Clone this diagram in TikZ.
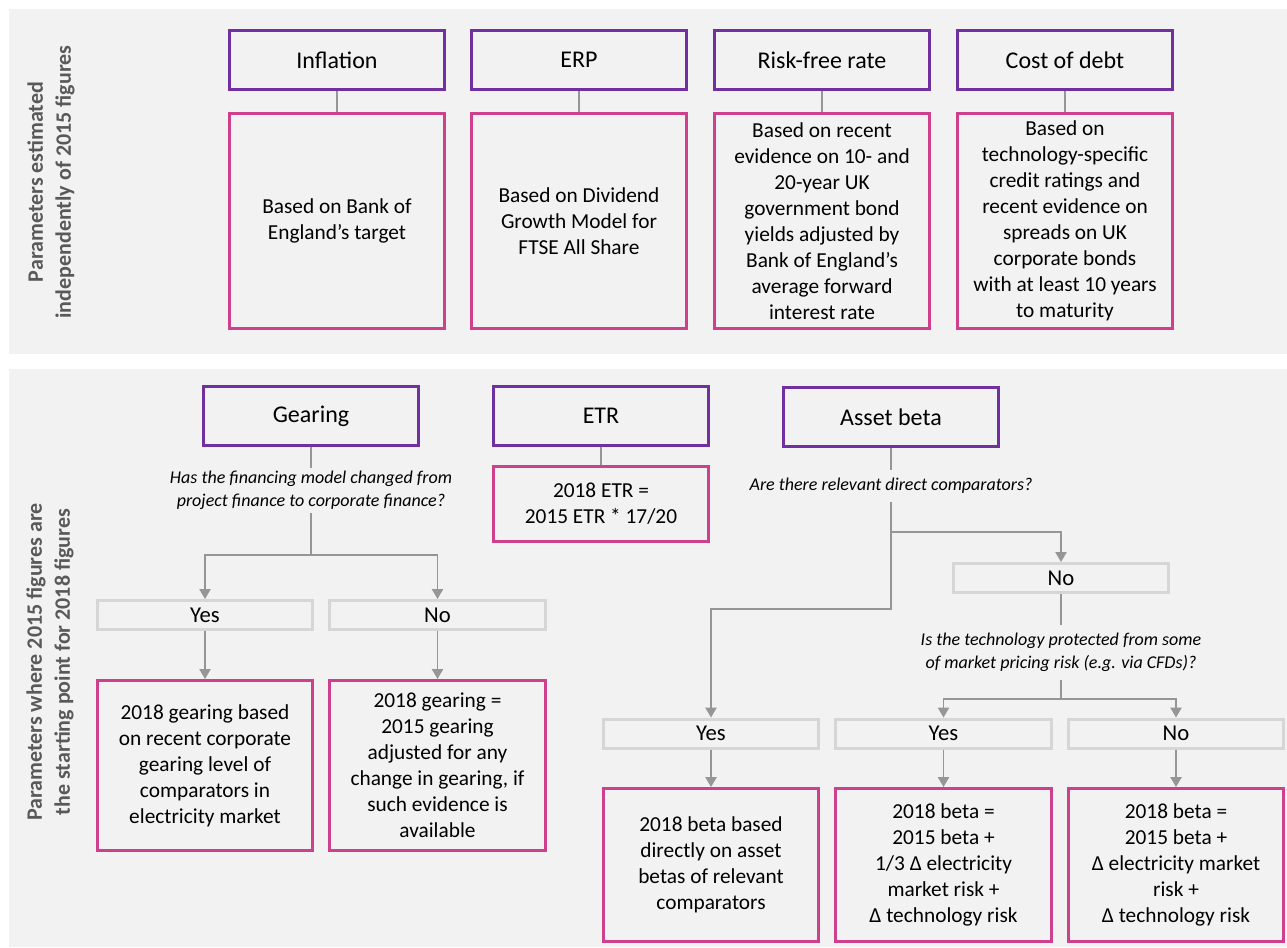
\documentclass[tikz,border=0pt]{standalone}
\usepackage{fontspec}
\setmainfont{Carlito}
\usetikzlibrary{arrows.meta}
\definecolor{purp}{RGB}{112,48,160}
\definecolor{pnk}{RGB}{207,64,140}
\definecolor{panel}{RGB}{242,242,242}
\definecolor{connc}{RGB}{150,150,150}
\definecolor{ansb}{RGB}{214,214,214}
\definecolor{sidec}{RGB}{89,89,89}
\begin{document}
\begin{tikzpicture}[x=0.75pt,y=-0.75pt,
 pbox/.style={draw=purp,line width=2.25pt,minimum width=161.5pt,minimum height=44.25pt,inner sep=0pt,font=\fontsize{18}{21}\selectfont},
 kbox/.style={draw=pnk,line width=2.25pt,minimum width=161.5pt,inner sep=0pt,align=center,font=\fontsize{16}{19.5}\selectfont},
 abox/.style={draw=ansb,line width=2.25pt,minimum width=161.5pt,minimum height=21.75pt,inner sep=0pt,font=\fontsize{17}{20}\selectfont},
 qtext/.style={align=center,inner sep=0pt,font=\itshape\fontsize{13.5}{17}\selectfont},
 cline/.style={draw=connc,line width=1.1pt},
 carr/.style={cline,-{Triangle[length=7.5pt,width=8.5pt]}},
 side/.style={rotate=90,align=center,text=sidec,font=\bfseries\fontsize{16.5}{21}\selectfont}
]
\useasboundingbox[fill=white] (0,0) rectangle (1287,947);
\fill[panel] (9,9) rectangle (1287,354);
\fill[panel] (9,369) rectangle (1287,947);

% side labels
\node[side] (sideA) at (51,182) {Parameters estimated\\independently of 2015 figures};
\node[side] (sideB) at (50,662) {Parameters where 2015 figures are\\the starting point for 2018 figures};

% top row
\node[pbox] (inf) at (337,60) {Inflation};
\node[pbox] (erp) at (579,60) {ERP};
\node[pbox] (rf) at (822,60) {Risk-free rate};
\node[pbox] (cd) at (1065,60) {Cost of debt};

\node[kbox,minimum height=161.25pt] (infB) at (337,221) {Based on Bank of\\England’s target};
\node[kbox,minimum height=161.25pt] (erpB) at (579,221) {Based on Dividend\\Growth Model for\\FTSE All Share};
\node[kbox,minimum height=161.25pt] (rfB) at (822,221) {Based on recent\\evidence on 10- and\\20-year UK\\government bond\\yields adjusted by\\Bank of England’s\\average forward\\interest rate};
\node[kbox,minimum height=161.25pt] (cdB) at (1065,221) {Based on\\technology-specific\\credit ratings and\\recent evidence on\\spreads on UK\\corporate bonds\\with at least 10 years\\to maturity};

\draw[cline] (inf.south) -- (infB.north);
\draw[cline] (erp.south) -- (erpB.north);
\draw[cline] (rf.south) -- (rfB.north);
\draw[cline] (cd.south) -- (cdB.north);

% bottom: gearing
\node[pbox] (gear) at (311,416) {Gearing};
\node[qtext,minimum height=33.75pt] (gq) at (311,490.5) {Has the financing model changed from\\project finance to corporate finance?};
\coordinate (gsplit) at (311,555);
\node[abox] (gYes) at (205,615) {Yes};
\node[abox] (gNo) at (437.5,615) {No};
\node[kbox,minimum height=127.5pt] (gYB) at (205,765.5) {2018 gearing based\\on recent corporate\\gearing level of\\comparators in\\electricity market};
\node[kbox,minimum height=127.5pt] (gNB) at (437.5,765.5) {2018 gearing =\\2015 gearing\\adjusted for any\\change in gearing, if\\such evidence is\\available};

\draw[cline] (gear.south) -- (gq.north);
\draw[cline] (gq.south) -- (gsplit);
\draw[carr] (gsplit) -| (gYes.north);
\draw[carr] (gsplit) -| (gNo.north);
\draw[carr] (gYes.south) -- (gYB.north);
\draw[carr] (gNo.south) -- (gNB.north);

% ETR
\node[pbox] (etr) at (601,416) {ETR};
\node[kbox,minimum height=56.25pt] (etrB) at (601,504) {2018 ETR =\\2015 ETR * 17/20};
\draw[cline] (etr.south) -- (etrB.north);

% asset beta
\node[pbox] (beta) at (891,417) {Asset beta};
\node[qtext,minimum height=24pt] (bq) at (891,486) {Are there relevant direct comparators?};
\coordinate (bsplit) at (891,532);
\coordinate (bdown) at (891,609);
\node[abox] (bNo) at (1061,578) {No};
\node[qtext,minimum height=41.25pt] (nq) at (1061,652.5) {Is the technology protected from some\\of market pricing risk (e.g. via CFDs)?};
\coordinate (tsplit) at (1061,699);
\node[abox] (bYes) at (711,733.5) {Yes};
\node[abox] (tYes) at (943.5,733.5) {Yes};
\node[abox] (tNo) at (1176,733.5) {No};
\node[kbox,minimum height=114.75pt] (bYB) at (711,865) {2018 beta based\\directly on asset\\betas of relevant\\comparators};
\node[kbox,minimum height=114.75pt] (tYB) at (943.5,865) {2018 beta =\\2015 beta +\\1/3 Δ electricity\\market risk +\\Δ technology risk};
\node[kbox,minimum height=114.75pt] (tNB) at (1176,865) {2018 beta =\\2015 beta +\\Δ electricity market\\risk +\\Δ technology risk};

\draw[cline] (beta.south) -- (bq.north);
\draw[cline] (bq.south) -- (bsplit);
\draw[carr] (bsplit) -| (bNo.north);
\draw[carr] (bsplit) -- (bdown) -| (bYes.north);
\draw[cline] (bNo.south) -- (nq.north);
\draw[cline] (nq.south) -- (tsplit);
\draw[carr] (tsplit) -| (tYes.north);
\draw[carr] (tsplit) -| (tNo.north);
\draw[carr] (bYes.south) -- (bYB.north);
\draw[carr] (tYes.south) -- (tYB.north);
\draw[carr] (tNo.south) -- (tNB.north);
\end{tikzpicture}
\end{document}
